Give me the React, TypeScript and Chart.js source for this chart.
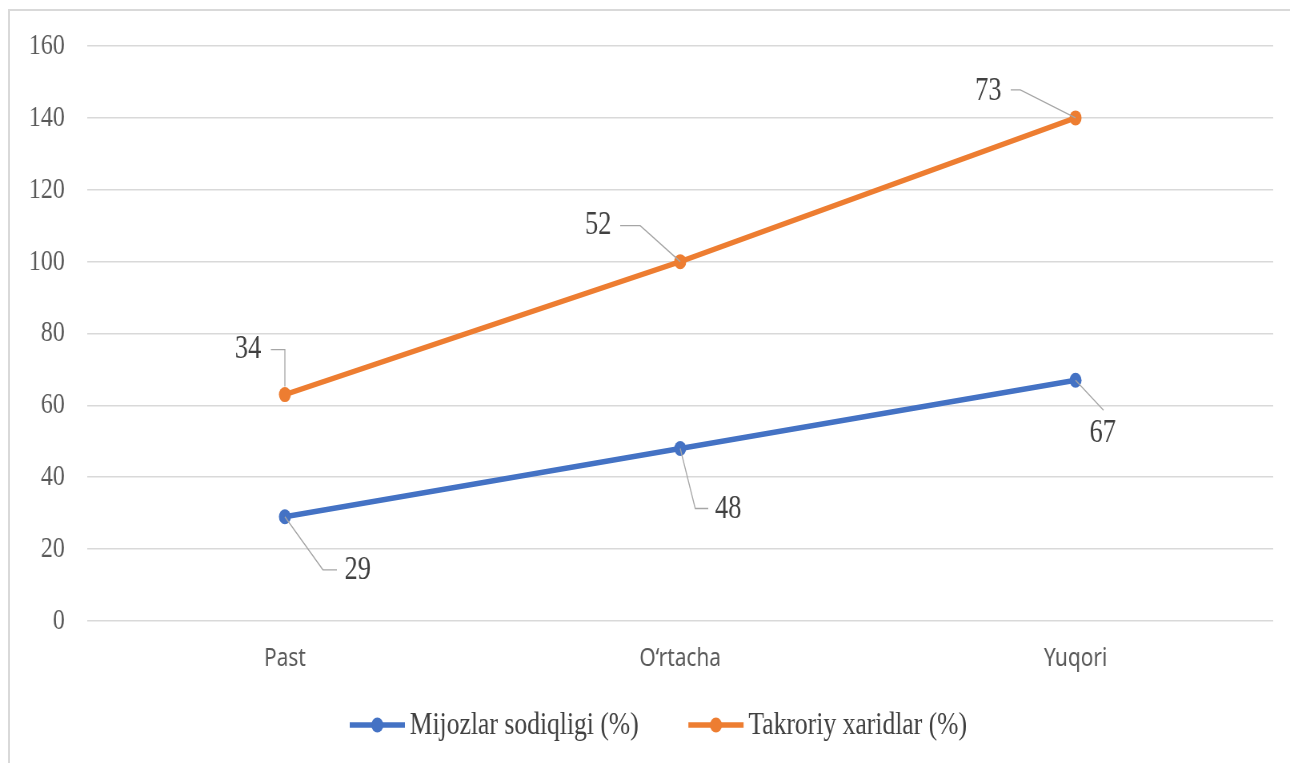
import React, { useEffect, useRef } from "react";
import { Chart, registerables } from "chart.js";

Chart.register(...registerables);

// ---- data ----
const categories = ["Past", "O‘rtacha", "Yuqori"];
const loyaltyValues = [29, 48, 67];
const repeatValues = [34, 52, 73];
const seriesNames = ["Mijozlar sodiqligi (%)", "Takroriy xaridlar (%)"];
const yMin = 0;
const yMax = 160;
const yStep = 20;

// ---- style ----
const BLUE = "#4472C4";
const ORANGE = "#ED7D31";
const W = 1612; // canvas drawing width (displayed compressed to 1290)
const H = 763;
const SERIF = "'Liberation Serif', 'Times New Roman', serif";
const SANS = "'Noto Sans', 'Open Sans', sans-serif";

// label positions relative to point (canvas px): text centre + leader polyline
const labelLayout: { t: [number, number]; l: [number, number][] }[][] = [
  [
    { t: [91, 54], l: [[0, 0], [47.5, 53], [65, 53]] },
    { t: [60, 61], l: [[0, 0], [18.75, 60], [35, 60]] },
    { t: [34, 53], l: [[0, 0], [35, 30]] },
  ],
  [
    { t: [-46, -45], l: [[-17.5, -45], [0, -45], [0, -8]] },
    { t: [-102.5, -36], l: [[-75, -36], [-50, -36], [0, 0]] },
    { t: [-109, -27], l: [[-81, -28], [-69, -28], [0, 0]] },
  ],
];

const dataLabelPlugin = {
  id: "dataLabelsLeader",
  afterDatasetsDraw(chart: any) {
    const ctx = chart.ctx;
    ctx.save();
    chart.data.datasets.forEach((ds: any, di: number) => {
      const meta = chart.getDatasetMeta(di);
      meta.data.forEach((pt: any, i: number) => {
        const lay = labelLayout[di]?.[i];
        if (!lay) return;
        const { x, y } = pt;
        ctx.beginPath();
        lay.l.forEach(([dx, dy], k) => {
          if (k === 0) ctx.moveTo(x + dx, y + dy);
          else ctx.lineTo(x + dx, y + dy);
        });
        ctx.strokeStyle = "#a6a6a6";
        ctx.lineWidth = 1.3;
        ctx.stroke();
        ctx.font = `33px ${SERIF}`;
        ctx.fillStyle = "#404040";
        ctx.textAlign = "center";
        ctx.textBaseline = "middle";
        ctx.fillText(String(ds.data[i]), x + lay.t[0], y + lay.t[1]);
      });
    });
    ctx.restore();
  },
};

const legendPlugin = {
  id: "lineLegend",
  afterDraw(chart: any) {
    const ctx = chart.ctx;
    ctx.save();
    const y = 725;
    let x = 437;
    const markerW = 69;
    ctx.font = `32px ${SERIF}`;
    ctx.textBaseline = "middle";
    ctx.textAlign = "left";
    chart.data.datasets.forEach((ds: any) => {
      const c = ds.borderColor;
      ctx.beginPath();
      ctx.moveTo(x, y);
      ctx.lineTo(x + markerW, y);
      ctx.strokeStyle = c;
      ctx.lineWidth = 5.5;
      ctx.stroke();
      ctx.beginPath();
      ctx.arc(x + markerW / 2, y, 7.5, 0, Math.PI * 2);
      ctx.fillStyle = c;
      ctx.fill();
      ctx.fillStyle = "#404040";
      const tx = x + markerW + 6;
      ctx.fillText(ds.label, tx, y + 1);
      x = tx + ctx.measureText(ds.label).width + 62;
    });
    ctx.restore();
  },
};

export default function App() {
  const ref = useRef<HTMLCanvasElement | null>(null);

  useEffect(() => {
    if (!ref.current) return;
    const chart = new Chart(ref.current, {
      type: "line",
      data: {
        labels: categories,
        datasets: [
          {
            label: seriesNames[0],
            data: loyaltyValues,
            borderColor: BLUE,
            backgroundColor: BLUE,
            pointBackgroundColor: BLUE,
            pointBorderColor: BLUE,
            borderWidth: 5.5,
            pointRadius: 7.5,
            pointBorderWidth: 0,
            tension: 0,
            fill: false,
          },
          {
            label: seriesNames[1],
            data: repeatValues,
            borderColor: ORANGE,
            backgroundColor: ORANGE,
            pointBackgroundColor: ORANGE,
            pointBorderColor: ORANGE,
            borderWidth: 5.5,
            pointRadius: 7.5,
            pointBorderWidth: 0,
            tension: 0,
            fill: false,
          },
        ],
      },
      options: {
        responsive: false,
        animation: false,
        devicePixelRatio: 1,
        events: [],
        layout: { padding: { top: 45, right: 21, bottom: 88, left: 0 } },
        plugins: {
          legend: { display: false },
          tooltip: { enabled: false },
          title: { display: false },
        },
        scales: {
          x: {
            offset: true,
            grid: { display: false, drawTicks: false },
            border: { display: false },
            ticks: {
              font: { family: SANS, size: 26 },
              color: "#595959",
              padding: 22,
            },
            afterFit: (s: any) => {
              s.height = 54;
            },
          },
          y: {
            stacked: true,
            min: yMin,
            max: yMax,
            grid: { color: "#d9d9d9", lineWidth: 1.6, drawTicks: false },
            border: { display: false },
            ticks: {
              stepSize: yStep,
              font: { family: SERIF, size: 30 },
              color: "#595959",
              padding: 28,
            },
            afterFit: (s: any) => {
              s.width = 109;
            },
          },
        },
      },
      plugins: [dataLabelPlugin, legendPlugin],
    } as any);
    return () => chart.destroy();
  }, []);

  return (
    <div
      style={{
        position: "fixed",
        left: 0,
        top: 0,
        width: 1290,
        height: 763,
        background: "#ffffff",
        overflow: "hidden",
      }}
    >
      <canvas
        ref={ref}
        width={W}
        height={H}
        style={{ position: "absolute", left: 0, top: 0, width: "1290px", height: "763px" }}
      />
      <div
        style={{
          position: "absolute",
          left: 8,
          top: 9,
          right: -10,
          bottom: -10,
          borderTop: "2px solid #d9d9d9",
          borderLeft: "2px solid #d9d9d9",
          pointerEvents: "none",
        }}
      />
    </div>
  );
}
